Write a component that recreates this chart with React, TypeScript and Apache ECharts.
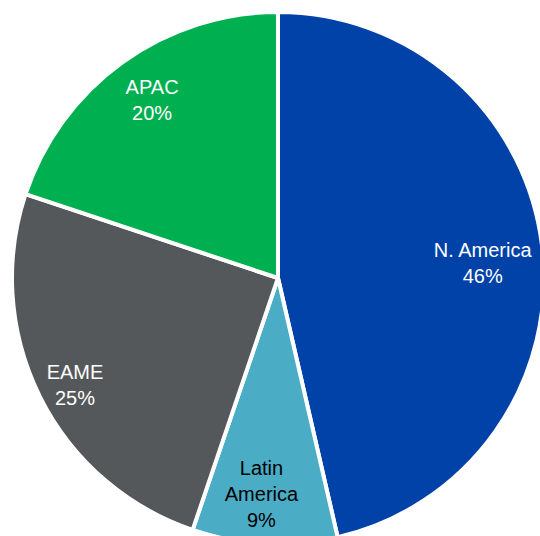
import React, { useEffect, useRef } from "react";
import * as echarts from "echarts";

const regions = ["N. America", "Latin America", "EAME", "APAC"];
const shares = [46.4, 8.8, 24.9, 19.9];
const colors = ["#0042A8", "#4BACC6", "#54585A", "#00B050"];
const labelColors = ["#FFFFFF", "#000000", "#FFFFFF", "#FFFFFF"];
const labelNudges = [
  [-4, 9],
  [-6, 6],
  [-15, 13],
  [-3, -8],
];

export default function App() {
  const ref = useRef<HTMLDivElement>(null);
  useEffect(() => {
    if (!ref.current) return;
    const chart = echarts.init(ref.current, null, { renderer: "svg" });
    const center = [278, 278];
    const data = regions.map((name, i) => ({ name, value: shares[i] }));
    chart.setOption({
      animation: false,
      backgroundColor: "#FFFFFF",
      series: [
        {
          type: "pie",
          center,
          radius: 266,
          startAngle: 90,
          clockwise: true,
          silent: true,
          label: { show: false },
          labelLine: { show: false },
          itemStyle: {
            borderColor: "#FFFFFF",
            borderWidth: 4,
          },
          data: data.map((d, i) => ({
            ...d,
            itemStyle: { color: colors[i] },
          })),
        },
        {
          type: "pie",
          center,
          radius: [148, 266],
          startAngle: 90,
          clockwise: true,
          silent: true,
          itemStyle: { color: "rgba(0,0,0,0)", borderWidth: 0 },
          labelLine: { show: false },
          label: {
            show: true,
            position: "inside",
            fontFamily: "Liberation Sans, Arial, sans-serif",
            fontSize: 20,
            lineHeight: 26,
            align: "center",
            formatter: (p: any) =>
              `${p.name === "Latin America" ? "Latin\nAmerica" : p.name}\n${Math.round(p.value)}%`,
          },
          labelLayout: (p: any) => ({
            dx: labelNudges[p.dataIndex][0],
            dy: labelNudges[p.dataIndex][1],
          }),
          data: data.map((d, i) => ({
            ...d,
            label: { color: labelColors[i] },
          })),
        },
      ],
    });
    return () => chart.dispose();
  }, []);
  return (
    <div
      ref={ref}
      style={{ position: "absolute", left: 0, top: 0, width: 540, height: 536 }}
    />
  );
}
